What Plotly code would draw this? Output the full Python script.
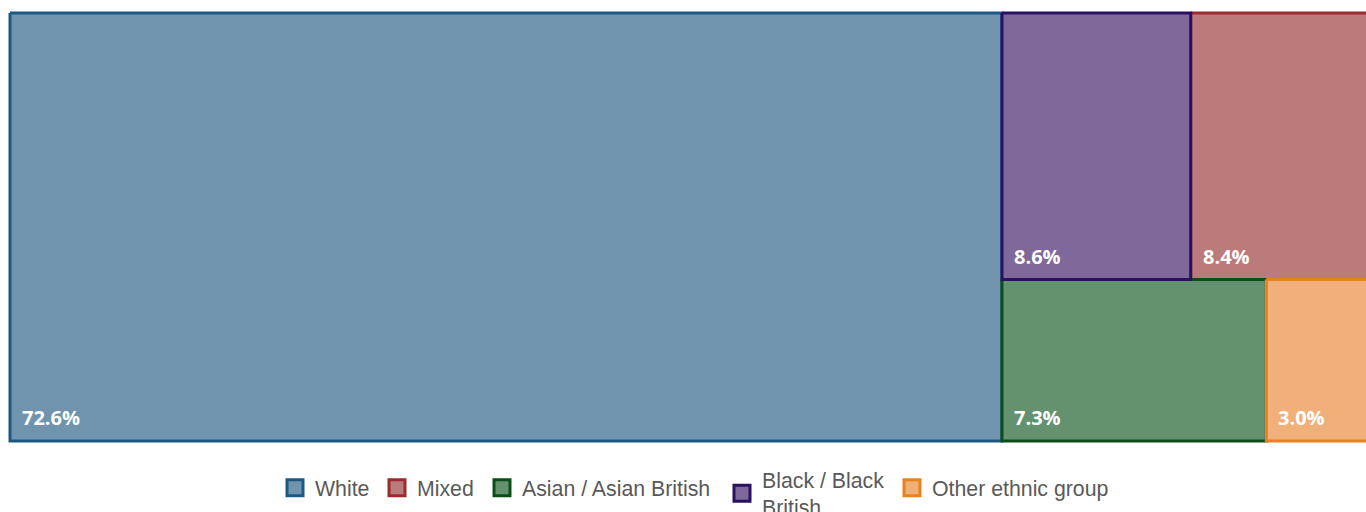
import plotly.graph_objects as go

# ---- data (legend order) ----
categories = ["White", "Mixed", "Asian / Asian British", "Black / Black British", "Other ethnic group"]
legend_labels = ["White", "Mixed", "Asian / Asian British", "Black / Black<br>British", "Other ethnic group"]
values = [72.6, 8.4, 7.3, 8.6, 3.0]
value_labels = ["72.6%", "8.4%", "7.3%", "8.6%", "3.0%"]
line_colors = ["#1d5883", "#9a2b31", "#0c4e1a", "#2a1060", "#e8821e"]
fill_colors = ["#7094ad", "#b97c7b", "#64916e", "#7e699a", "#f1b079"]
draw_order = ["White", "Mixed", "Asian / Asian British", "Other ethnic group", "Black / Black British"]

# ---- layout box (treemap canvas, in plot units) ----
TOTAL_W, TOTAL_H = 1365.0, 428.0

# legend entry placement (pixel x of each symbol centre, pixel y of entry centre)
legend_px_x = [295, 397, 502, 742, 912]
legend_px_y = [488, 488, 488, 493.5, 488]

W, H = 1366, 512
ML, MR, MT, MB = 8, 0, 11, 69
PW, PH = W - ML - MR, H - MT - MB


def squarify(vals, x, y, w, h):
    total = sum(vals)
    areas = [v * w * h / total for v in vals]

    def worst(row, side):
        s = sum(row)
        return max(max(side * side * r / (s * s), s * s / (side * side * r)) for r in row)

    def layout_row(row, x, y, w, h):
        s = sum(row)
        out = []
        if w >= h:
            cw = s / h
            yy = y
            for a in row:
                rh = a / cw
                out.append((x, yy, cw, rh))
                yy += rh
            return out, (x + cw, y, w - cw, h)
        else:
            rh = s / w
            xx = x
            for a in row:
                cw = a / rh
                out.append((xx, y, cw, rh))
                xx += cw
            return out, (x, y + rh, w, h - rh)

    rects = []
    remaining = areas[:]
    rx, ry, rw, rh = x, y, w, h
    while remaining:
        side = min(rw, rh)
        row = [remaining.pop(0)]
        while remaining and worst(row + [remaining[0]], side) <= worst(row, side):
            row.append(remaining.pop(0))
        out, (rx, ry, rw, rh) = layout_row(row, rx, ry, rw, rh)
        rects.extend(out)
    return rects


order = sorted(range(len(values)), key=lambda i: -values[i])
rect_list = squarify([values[i] for i in order], 0, 0, TOTAL_W, TOTAL_H)
rects = {categories[i]: r for i, r in zip(order, rect_list)}

fig = go.Figure()

for name in draw_order:
    i = categories.index(name)
    x0, y0, w, h = rects[name]
    fig.add_trace(go.Scatter(
        x=[x0, x0 + w, x0 + w, x0, x0],
        y=[y0, y0, y0 + h, y0 + h, y0],
        mode="lines", fill="toself",
        fillcolor=fill_colors[i],
        line=dict(color=line_colors[i], width=3),
        showlegend=False, hoverinfo="skip",
    ))

legend_layouts = {}
for i, name in enumerate(categories):
    lg = "legend" if i == 0 else f"legend{i + 1}"
    fig.add_trace(go.Scatter(
        x=[None], y=[None], mode="markers", name=legend_labels[i],
        marker=dict(symbol="square", size=16, color=fill_colors[i],
                    line=dict(color=line_colors[i], width=3)),
        showlegend=True, legend=lg,
    ))
    legend_layouts[lg] = dict(
        orientation="h",
        x=(legend_px_x[i] - 20 - ML) / PW, xanchor="left",
        y=-(legend_px_y[i] - (MT + PH)) / PH, yanchor="middle",
        font=dict(family="Liberation Sans, Arial", size=21.3, color="#595959"),
        bgcolor="rgba(0,0,0,0)", borderwidth=0,
        itemclick=False, itemdoubleclick=False,
    )

for i, name in enumerate(categories):
    x0, y0, w, h = rects[name]
    fig.add_annotation(
        x=x0, y=y0 + h, xref="x", yref="y",
        text=value_labels[i], showarrow=False,
        xanchor="left", yanchor="bottom", xshift=10, yshift=8,
        font=dict(family="Open Sans", size=20, color="white", weight="bold"),
    )

fig.update_layout(
    width=W, height=H,
    margin=dict(l=ML, r=MR, t=MT, b=MB, autoexpand=False),
    paper_bgcolor="white", plot_bgcolor="white",
    xaxis=dict(range=[-2, 1356], visible=False, fixedrange=True),
    yaxis=dict(range=[TOTAL_H + 2, -2], visible=False, fixedrange=True),
    showlegend=True,
    hovermode=False,
    **legend_layouts,
)

fig.write_html(
    "out.html",
    config={"displayModeBar": False, "staticPlot": False},
    post_script="document.body.style.margin='0';document.body.style.overflow='hidden';",
)
